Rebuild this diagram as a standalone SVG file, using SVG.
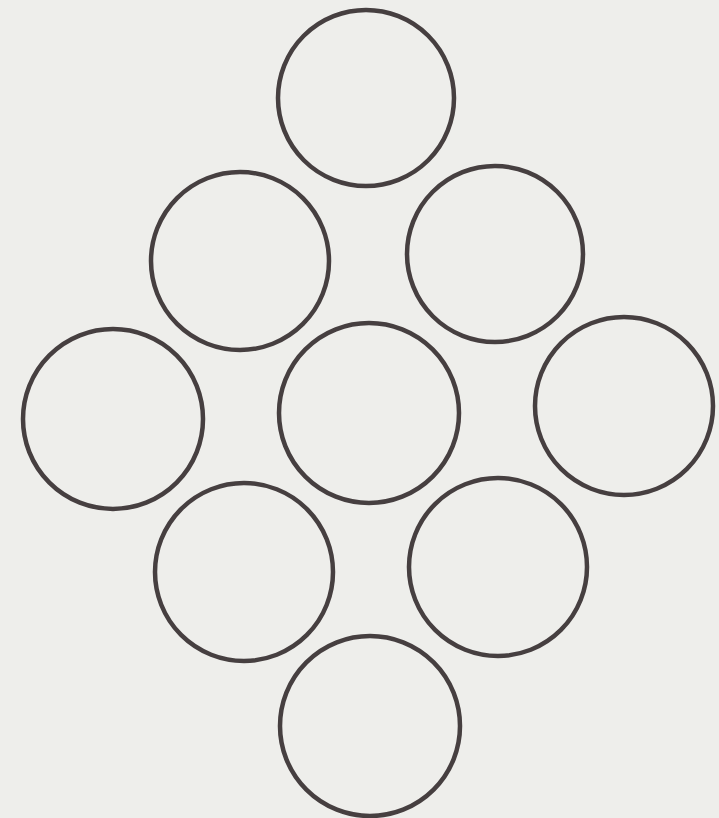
<svg xmlns="http://www.w3.org/2000/svg" width="719" height="818" viewBox="0 0 719 818">
<style>
.c{fill:none;stroke:#463f40;stroke-width:4.5}
</style>
<rect width="719" height="818" fill="#eeeeeb"/>
<g id="n1"><circle class="c" cx="366" cy="98" r="88"/></g>
<g id="n2"><circle class="c" cx="240" cy="261" r="89"/></g>
<g id="n3"><circle class="c" cx="495" cy="254" r="88"/></g>
<g id="n4"><circle class="c" cx="113" cy="419" r="90"/></g>
<g id="n5"><circle class="c" cx="369" cy="413" r="90"/></g>
<g id="n6"><circle class="c" cx="624" cy="406" r="89"/></g>
<g id="n7"><circle class="c" cx="244" cy="572" r="89"/></g>
<g id="n8"><circle class="c" cx="498" cy="567" r="89"/></g>
<g id="n9"><circle class="c" cx="370" cy="726" r="90"/></g>
<g id="connectors"></g>
</svg>
